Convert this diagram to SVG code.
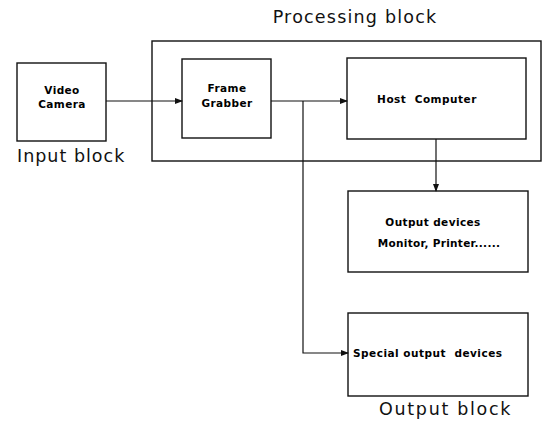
<svg xmlns="http://www.w3.org/2000/svg" width="542" height="428" viewBox="0 0 542 428">
<style>
.box{fill:none;stroke:#111;stroke-width:1.4}
.ln{fill:none;stroke:#111;stroke-width:1.2}
.t{font-family:"DejaVu Sans",Verdana,sans-serif;font-weight:bold;font-size:10.5px;fill:#000;text-anchor:middle}
.st{text-anchor:start}
.big{font-family:"DejaVu Sans",Verdana,sans-serif;font-size:17.5px;fill:#111}
</style>
<defs>
<marker id="ah" markerWidth="8" markerHeight="6" refX="7" refY="3" orient="auto" markerUnits="userSpaceOnUse">
<path d="M0,0 L8,3 L0,6 Z" fill="#111"/>
</marker>
</defs>
<g id="processing-block">
<rect class="box" x="152" y="41" width="389" height="120"/>
<text class="big" x="355" y="23" text-anchor="middle" letter-spacing="1.2">Processing block</text>
</g>
<g id="video-camera">
<rect class="box" x="17" y="63" width="89" height="78"/>
<text class="t" x="62" y="94" letter-spacing="0.4">Video</text>
<text class="t" x="62" y="108" letter-spacing="0.4">Camera</text>
</g>
<g id="input-block-label">
<text class="big" x="17" y="162" font-size="18px" letter-spacing="1">Input block</text>
</g>
<g id="frame-grabber">
<rect class="box" x="182" y="59" width="89" height="79"/>
<text class="t" x="227" y="92" letter-spacing="0.4">Frame</text>
<text class="t" x="227" y="107" letter-spacing="0.4">Grabber</text>
</g>
<g id="host-computer">
<rect class="box" x="347" y="58" width="179" height="81"/>
<text class="t" x="427" y="103" letter-spacing="0.5" xml:space="preserve">Host  Computer</text>
</g>
<g id="output-devices">
<rect class="box" x="348" y="191" width="180" height="81"/>
<text class="t" x="433" y="226" letter-spacing="0.4">Output devices</text>
<text class="t" x="439" y="247" letter-spacing="0.3">Monitor, Printer......</text>
</g>
<g id="special-output">
<rect class="box" x="348" y="313" width="180" height="83"/>
<text class="t st" x="353" y="357" letter-spacing="0.5" xml:space="preserve">Special output  devices</text>
</g>
<g id="output-block-label">
<text class="big" x="379" y="415" font-size="18px" letter-spacing="1.7">Output block</text>
</g>
<g id="connectors">
<line class="ln" x1="106" y1="101" x2="182" y2="101" marker-end="url(#ah)"/>
<line class="ln" x1="271" y1="101" x2="347" y2="101" marker-end="url(#ah)"/>
<line class="ln" x1="436" y1="139" x2="436" y2="191" marker-end="url(#ah)"/>
<polyline class="ln" points="303,101 303,353 348,353" marker-end="url(#ah)"/>
</g>
</svg>
